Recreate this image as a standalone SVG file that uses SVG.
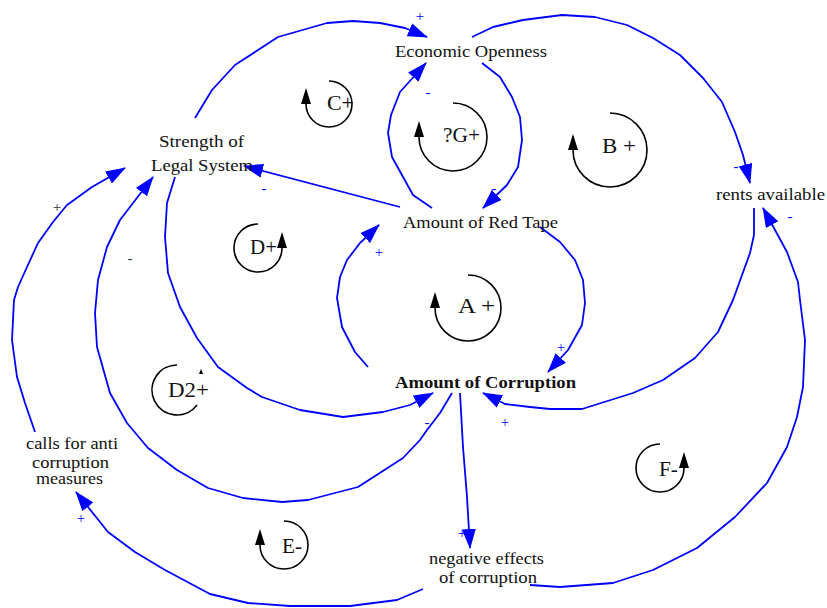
<svg xmlns="http://www.w3.org/2000/svg" width="827" height="608" viewBox="0 0 827 608">
<defs>
<marker id="ah" markerUnits="userSpaceOnUse" markerWidth="20" markerHeight="14" viewBox="0 0 20 14" refX="19" refY="7" orient="auto">
<path d="M0,0 L20,7 L0,14 z" fill="#0000ff"/>
</marker>
<marker id="lh" markerUnits="userSpaceOnUse" markerWidth="16" markerHeight="10" viewBox="0 0 16 10" refX="0" refY="5" orient="auto">
<path d="M0,0 L16,5 L0,10 z" fill="#000"/>
</marker>
<style>
.lk{fill:none;stroke:#0000ff;stroke-width:1.8;stroke-linejoin:round;marker-end:url(#ah)}
.lp{fill:none;stroke:#000;stroke-width:1.6;marker-end:url(#lh)}
.nd{font-family:"Liberation Serif",serif;font-size:16px;fill:#111}
.lb{font-family:"Liberation Serif",serif;font-size:21px;fill:#111}
.pl{font-family:"Liberation Serif",serif;font-size:15px;fill:#0000ff;text-anchor:middle}
.pd{font-family:"Liberation Serif",serif;font-size:15px;fill:#333;text-anchor:middle}
</style>
</defs>
<rect width="827" height="608" fill="#fff"/>
<g id="connectors">
<polyline class="lk" points="195,118 212,90 235,65 278,37 327,23 353,21 380,23 405,28 427,37"/>
<polyline class="lk" points="472,37 493,27 523,20 562,15 595,17 627,25 653,38 680,55 703,78 722,102 735,132 743,155 750,183"/>
<polyline class="lk" points="482,63 500,77 512,97 520,117 522,140 518,167 507,185 483,208"/>
<polyline class="lk" points="432,208 413,195 392,157 388,133 391,115 400,92 426,63"/>
<polyline class="lk" points="400,207 244,166"/>
<polyline class="lk" points="540,227 560,242 575,260 583,280 585,303 582,325 568,350 548,372"/>
<polyline class="lk" points="368,367 355,352 342,327 337,298 340,277 347,260 360,243 379,225"/>
<polyline class="lk" points="175,177 167,203 165,237 168,273 180,307 197,338 218,367 247,388 262,397 300,410 343,417 383,412 410,405 433,393"/>
<polyline class="lk" points="452,393 440,413 427,430 420,440 403,458 358,487 308,500 282,502 243,498 208,488 177,470 148,448 127,423 110,393 97,347 95,313 98,280 107,247 120,220 153,177"/>
<polyline class="lk" points="35,432 25,403 17,377 12,340 14,300 18,287 27,267 38,243 53,222 67,205 92,187 125,168"/>
<polyline class="lk" points="423,589 397,600 350,606 290,606 248,603 210,594 165,570 135,552 108,532 76,492"/>
<polyline class="lk" points="460,393 463,447 467,497 470,548"/>
<polyline class="lk" points="530,585 560,587 613,583 653,570 697,548 735,517 767,483 787,447 797,417 803,387 805,340 800,300 798,282 787,252 763,208"/>
<polyline class="lk" points="754,208 754,235 750,253 733,300 718,332 695,358 663,380 633,393 582,409 550,409 530,407 505,404 483,393"/>
</g>
<g id="polarities">
<text class="pl" x="420" y="21">+</text>
<text class="pl" x="736" y="171">-</text>
<text class="pl" x="494" y="193">-</text>
<text class="pl" x="428" y="97">-</text>
<text class="pl" x="264" y="193">-</text>
<text class="pl" x="379" y="257">+</text>
<text class="pl" x="561" y="352">+</text>
<text class="pl" x="427" y="427">-</text>
<text class="pl" x="505" y="427">+</text>
<text class="pl" x="462" y="538">+</text>
<text class="pl" x="81" y="523">+</text>
<text class="pl" x="790" y="221">-</text>
<text class="pd" x="57" y="212">+</text>
<text class="pd" x="130" y="263">-</text>
</g>
<g id="economic-openness"><text class="nd" x="395" y="57" textLength="152" lengthAdjust="spacingAndGlyphs">Economic Openness</text></g>
<g id="strength-of-legal-system">
<text class="nd" x="159" y="147" textLength="85" lengthAdjust="spacingAndGlyphs">Strength of</text>
<text class="nd" x="151" y="171" textLength="102" lengthAdjust="spacingAndGlyphs">Legal System</text>
</g>
<g id="amount-of-red-tape"><text class="nd" x="403" y="228" textLength="155" lengthAdjust="spacingAndGlyphs">Amount of Red Tape</text></g>
<g id="rents-available"><text class="nd" x="716" y="200" textLength="109" lengthAdjust="spacingAndGlyphs">rents available</text></g>
<g id="amount-of-corruption"><text class="nd" x="395" y="388" font-weight="bold" textLength="181" lengthAdjust="spacingAndGlyphs">Amount of Corruption</text></g>
<g id="calls-for-anti-corruption-measures">
<text class="nd" x="26" y="449" textLength="92" lengthAdjust="spacingAndGlyphs">calls for anti</text>
<text class="nd" x="32" y="468" textLength="77" lengthAdjust="spacingAndGlyphs">corruption</text>
<text class="nd" x="36" y="484" textLength="67" lengthAdjust="spacingAndGlyphs">measures</text>
</g>
<g id="negative-effects-of-corruption">
<text class="nd" x="429" y="564" textLength="115" lengthAdjust="spacingAndGlyphs">negative effects</text>
<text class="nd" x="439" y="583" textLength="98" lengthAdjust="spacingAndGlyphs">of corruption</text>
</g>
<g id="loop-C">
<path class="lp" d="M329,81 A23,23 0 1 1 306,104"/>
<text class="lb" x="327" y="110" textLength="27" lengthAdjust="spacingAndGlyphs">C+</text>
</g>
<g id="loop-G">
<path class="lp" d="M453,103 A34,34 0 1 1 419,137"/>
<text class="lb" x="443" y="142" textLength="37" lengthAdjust="spacingAndGlyphs">?G+</text>
</g>
<g id="loop-B">
<path class="lp" d="M610,113 A37,37 0 1 1 573,150"/>
<text class="lb" x="602" y="153" textLength="34" lengthAdjust="spacingAndGlyphs">B +</text>
</g>
<g id="loop-A">
<path class="lp" d="M468,275 A33,33 0 1 1 435,308"/>
<text class="lb" x="458" y="313" textLength="37" lengthAdjust="spacingAndGlyphs">A +</text>
</g>
<g id="loop-D">
<path class="lp" d="M258,224 A24,24 0 1 0 282,248"/>
<text class="lb" x="250" y="254" textLength="27" lengthAdjust="spacingAndGlyphs">D+</text>
</g>
<g id="loop-D2">
<path d="M177,365 A25,25 0 1 0 197,405" fill="none" stroke="#000" stroke-width="1.6"/>
<path d="M201,369 L203,374 L199,374 z" fill="#000"/>
<text class="lb" x="168" y="397" textLength="41" lengthAdjust="spacingAndGlyphs">D2+</text>
</g>
<g id="loop-E">
<path class="lp" d="M284,521 A24,24 0 1 1 260,545"/>
<text class="lb" x="282" y="553" textLength="20" lengthAdjust="spacingAndGlyphs">E-</text>
</g>
<g id="loop-F">
<path class="lp" d="M660,444 A24,24 0 1 0 684,468"/>
<text class="lb" x="659" y="476" textLength="19" lengthAdjust="spacingAndGlyphs">F-</text>
</g>
</svg>
